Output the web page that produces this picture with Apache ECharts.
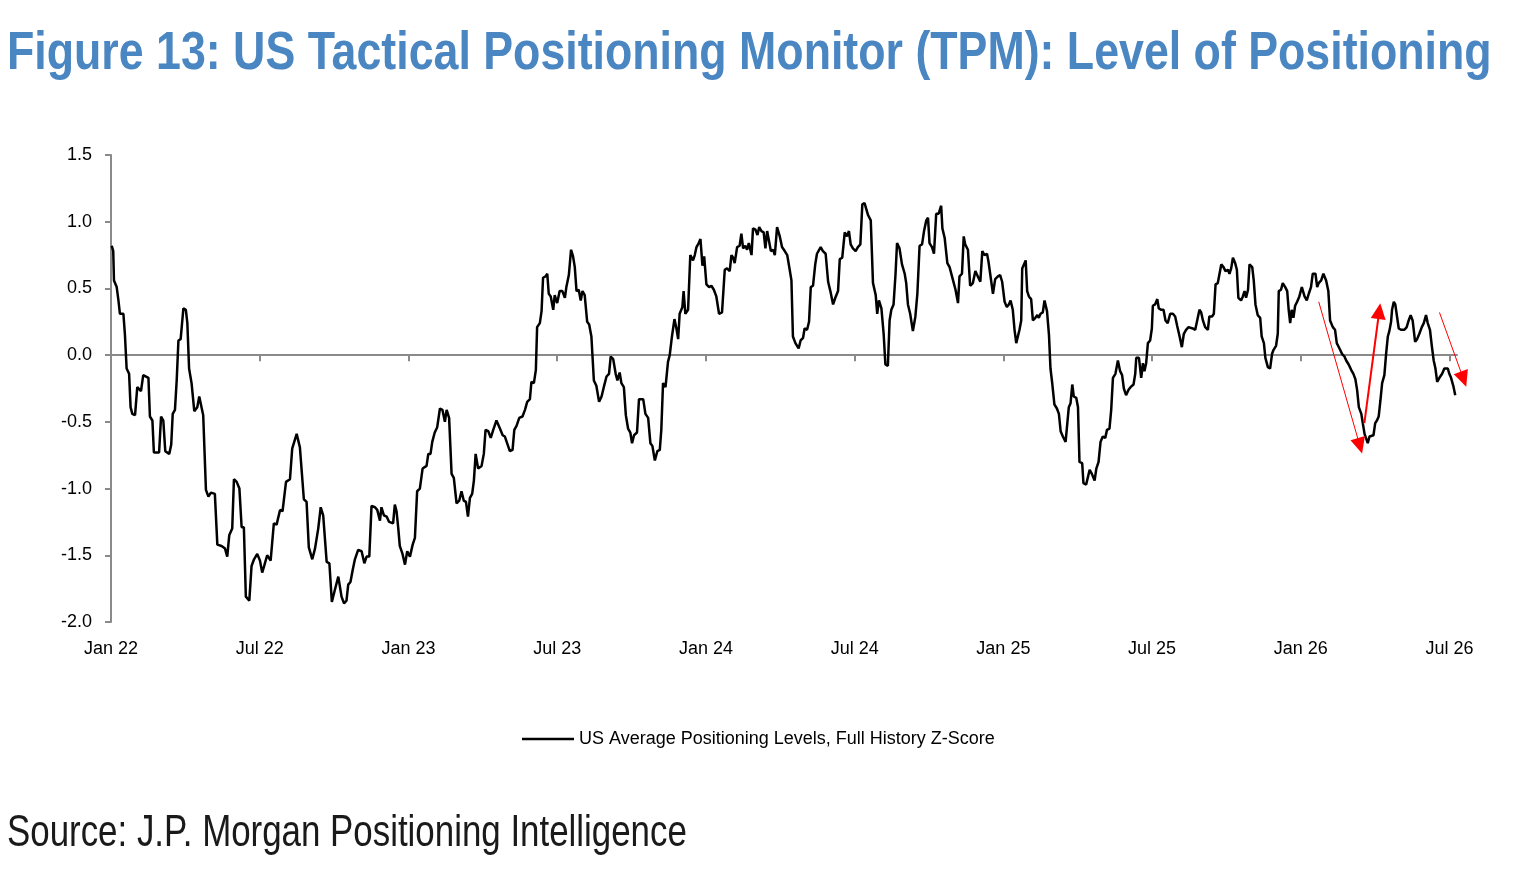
<!DOCTYPE html>
<html>
<head>
<meta charset="utf-8">
<script src="https://cdn.jsdelivr.net/npm/echarts@6/dist/echarts.min.js"></script>
<style>
  html, body { margin: 0; padding: 0; background: #fff; }
  #main { width: 1524px; height: 881px; }
</style>
</head>
<body>
<div id="main"></div>
<script>
// x positions in months since Jan 2022
const months = [
  0.03,0.09,0.12,0.23,0.30,0.36,0.50,0.56,0.63,0.73,0.79,0.86,0.97,1.06,1.14,1.21,1.30,1.51,1.57,1.67,
  1.73,1.84,1.94,2.02,2.11,2.19,2.35,2.43,2.49,2.58,2.65,2.72,2.81,2.92,3.02,3.08,3.15,3.25,3.36,3.48,
  3.56,3.72,3.83,3.93,4.03,4.19,4.29,4.46,4.60,4.69,4.77,4.89,4.96,5.07,5.18,5.27,5.36,5.44,5.58,5.67,
  5.77,5.90,6.01,6.10,6.18,6.30,6.44,6.57,6.68,6.82,6.92,7.06,7.22,7.31,7.39,7.49,7.62,7.78,7.89,7.98,
  8.12,8.23,8.36,8.46,8.56,8.70,8.81,8.91,
  9.03,9.17,9.30,9.40,9.50,9.57,9.66,9.75,9.84,9.97,10.11,10.22,10.31,10.42,10.51,10.65,10.74,10.85,10.91,11.01,
  11.12,11.22,11.38,11.45,11.52,11.59,11.65,11.76,11.86,11.95,12.06,12.17,12.26,12.35,12.46,12.57,12.73,12.80,12.89,12.96,
  13.06,13.16,13.27,13.37,13.47,13.54,13.64,13.74,13.83,13.94,14.05,14.14,14.23,14.32,14.40,14.48,14.57,14.64,14.71,14.81,
  14.95,15.04,15.11,15.22,15.32,15.42,15.55,15.69,15.80,15.89,16.00,16.09,16.20,16.27,16.36,16.47,16.60,16.70,16.79,16.90,
  16.96,17.06,17.14,17.19,17.30,17.37,17.43,17.53,17.60,17.66,17.74,17.84,17.90,18.00,
  18.10,18.21,18.31,18.37,18.47,18.56,18.64,18.71,18.78,18.87,18.95,19.02,19.11,19.21,19.29,19.38,19.48,19.58,19.69,19.79,
  19.88,19.99,20.09,20.16,20.26,20.36,20.43,20.52,20.59,20.69,20.77,20.86,20.95,21.02,21.10,21.22,21.30,21.47,21.56,21.67,
  21.76,21.84,21.94,22.04,22.14,22.20,22.27,22.37,22.47,22.54,22.63,22.73,22.81,22.88,22.94,23.05,23.10,23.17,23.28,23.37,
  23.48,23.55,23.62,23.71,23.78,23.86,23.93,24.02,24.13,24.22,24.32,24.42,24.53,24.65,24.76,24.85,24.96,25.03,25.10,25.16,
  25.26,25.36,25.43,25.50,25.59,25.66,25.73,25.84,25.90,26.00,26.08,26.15,26.24,26.33,26.40,26.47,26.55,26.62,26.71,26.78,
  26.87,26.98,27.07,27.18,27.28,
  27.38,27.45,27.51,27.61,27.74,27.82,27.92,27.98,28.08,28.16,28.23,28.32,28.41,28.48,28.56,28.63,28.72,28.83,28.93,29.02,
  29.13,29.22,29.33,29.40,29.50,29.60,29.69,29.77,29.84,29.93,30.04,30.13,30.23,30.31,30.40,30.47,30.54,30.65,30.74,30.85,
  30.91,30.98,31.08,31.17,31.24,31.34,31.41,31.48,31.57,31.65,31.71,31.81,31.91,32.02,32.08,32.15,32.24,32.35,32.45,32.53,
  32.62,32.72,32.80,32.89,32.96,33.02,33.12,33.20,33.29,33.39,33.49,33.54,33.63,33.74,33.83,33.97,34.07,34.17,34.23,34.33,
  34.40,34.46,34.57,34.66,34.77,34.87,34.97,35.07,35.15,35.24,35.34,35.40,35.48,35.58,35.67,35.78,35.87,35.95,36.05,36.14,
  36.22,36.29,36.38,36.45,36.52,
  36.65,36.72,36.76,36.83,36.90,36.96,37.03,37.12,37.19,37.29,37.37,37.43,37.50,37.59,37.66,37.76,37.84,37.90,37.97,38.06,
  38.16,38.24,38.31,38.40,38.51,38.58,38.64,38.71,38.78,38.84,38.94,39.01,39.07,39.18,39.23,39.34,39.41,39.48,39.57,39.68,
  39.75,39.84,39.92,40.01,40.11,40.18,40.28,40.35,40.42,40.52,40.62,40.71,40.79,40.86,40.95,41.05,41.13,41.25,41.32,41.36,
  41.47,41.56,41.63,41.69,41.76,41.83,41.92,41.99,42.03,42.12,42.21,42.27,42.37,42.46,42.54,42.63,42.73,42.84,42.93,43.01,
  43.11,43.20,43.28,43.37,43.47,43.55,43.64,43.74,43.80,43.91,43.98,44.05,44.14,44.25,44.31,44.42,44.49,44.56,44.65,44.72,
  44.79,44.88,44.96,45.06,45.12,45.19,45.26,45.35,45.42,45.48,45.59,45.66,45.73,45.79,45.87,
  45.93,46.04,46.10,46.17,46.26,46.36,46.42,46.51,46.57,46.67,46.76,46.84,46.90,47.00,47.07,47.11,47.20,47.27,47.37,47.45,
  47.51,47.57,47.63,47.70,47.77,47.85,47.94,48.04,48.15,48.24,48.32,48.41,48.48,48.59,48.66,48.72,48.82,48.91,49.02,49.11,
  49.18,49.29,49.38,49.45,49.56,49.66,49.76,49.83,49.93,50.03,50.12,50.20,50.27,50.34,50.44,50.50,50.57,50.63,50.70,50.77,
  50.85,50.93,51.00,51.07,51.14,51.21,51.28,51.37,51.44,51.51,51.57,51.64,51.68,51.75,51.81,51.88,51.95,52.04,52.18,52.27,
  52.35,52.43,52.51,52.61,52.69,52.78,52.88,52.96,53.05,53.12,53.21,53.29,53.36,53.43,53.50,53.59,53.70,53.79,53.93,53.99,
  54.06,54.15,54.23
]

// US Average Positioning Levels, Full History Z-Score
const zScore = [
  0.82,0.78,0.56,0.51,0.41,0.31,0.31,0.16,-0.10,-0.14,-0.39,-0.44,-0.45,-0.24,-0.25,-0.27,-0.15,-0.17,-0.46,-0.49,
  -0.73,-0.73,-0.73,-0.46,-0.49,-0.72,-0.74,-0.67,-0.44,-0.41,-0.19,0.11,0.12,0.35,0.34,0.24,-0.10,-0.21,-0.42,-0.39,
  -0.31,-0.45,-1.01,-1.06,-1.03,-1.04,-1.42,-1.43,-1.45,-1.51,-1.35,-1.30,-0.93,-0.95,-1.00,-1.29,-1.29,-1.81,-1.84,-1.58,
  -1.53,-1.49,-1.54,-1.63,-1.58,-1.50,-1.54,-1.26,-1.27,-1.16,-1.17,-0.95,-0.93,-0.70,-0.71,-0.59,-0.69,-1.08,-1.10,-1.44,
  -1.53,-1.45,-1.30,-1.14,-1.20,-1.55,-1.56,-1.85,
  -1.76,-1.66,-1.81,-1.86,-1.84,-1.72,-1.70,-1.61,-1.53,-1.46,-1.47,-1.56,-1.51,-1.51,-1.13,-1.14,-1.16,-1.24,-1.14,-1.20,
  -1.21,-1.25,-1.26,-1.12,-1.17,-1.30,-1.43,-1.49,-1.57,-1.47,-1.51,-1.42,-1.37,-1.02,-1.00,-0.85,-0.83,-0.74,-0.74,-0.65,
  -0.58,-0.54,-0.40,-0.41,-0.50,-0.41,-0.47,-0.89,-0.92,-1.11,-1.09,-1.02,-1.09,-1.10,-1.21,-1.07,-1.04,-0.94,-0.74,-0.85,
  -0.83,-0.74,-0.56,-0.57,-0.62,-0.56,-0.49,-0.55,-0.60,-0.61,-0.67,-0.72,-0.71,-0.56,-0.53,-0.47,-0.46,-0.41,-0.35,-0.33,
  -0.20,-0.21,-0.11,0.21,0.24,0.33,0.58,0.59,0.61,0.46,0.44,0.34,0.45,0.39,
  0.48,0.48,0.43,0.51,0.60,0.79,0.74,0.66,0.48,0.49,0.41,0.48,0.45,0.25,0.23,0.14,-0.19,-0.23,-0.35,-0.31,
  -0.24,-0.16,-0.14,-0.01,-0.03,-0.14,-0.19,-0.13,-0.21,-0.24,-0.45,-0.55,-0.58,-0.66,-0.60,-0.58,-0.33,-0.33,-0.44,-0.47,
  -0.66,-0.68,-0.79,-0.72,-0.71,-0.56,-0.21,-0.24,-0.05,0.00,0.14,0.27,0.20,0.12,0.31,0.36,0.48,0.31,0.34,0.75,
  0.71,0.75,0.81,0.84,0.87,0.67,0.74,0.53,0.51,0.52,0.49,0.44,0.31,0.32,0.64,0.65,0.63,0.75,0.73,0.69,
  0.81,0.82,0.91,0.80,0.82,0.79,0.84,0.75,0.95,0.94,0.90,0.96,0.93,0.92,0.80,0.93,0.94,0.78,0.79,0.75,
  0.96,0.89,0.81,0.78,0.75,
  0.64,0.56,0.14,0.09,0.05,0.11,0.13,0.20,0.19,0.25,0.51,0.52,0.68,0.76,0.76,0.81,0.78,0.76,0.55,0.48,
  0.38,0.43,0.48,0.72,0.73,0.92,0.89,0.93,0.83,0.80,0.78,0.81,0.83,1.13,1.14,1.15,1.05,1.01,0.54,0.45,
  0.31,0.41,0.35,0.16,-0.07,-0.08,0.26,0.34,0.38,0.61,0.84,0.80,0.68,0.61,0.54,0.38,0.31,0.18,0.29,0.46,
  0.82,0.83,0.93,1.01,1.03,0.84,0.81,0.76,1.06,1.06,1.12,0.95,0.88,0.69,0.66,0.56,0.49,0.39,0.59,0.61,
  0.89,0.83,0.79,0.52,0.54,0.63,0.59,0.55,0.78,0.75,0.76,0.70,0.71,0.46,0.57,0.59,0.60,0.55,0.40,0.36,
  0.38,0.41,0.34,0.19,0.09,
  0.19,0.26,0.65,0.68,0.71,0.48,0.44,0.42,0.26,0.28,0.30,0.28,0.31,0.32,0.41,0.33,0.15,-0.10,-0.21,-0.37,
  -0.40,-0.44,-0.57,-0.61,-0.65,-0.51,-0.39,-0.36,-0.22,-0.31,-0.32,-0.39,-0.80,-0.81,-0.96,-0.97,-0.98,-0.86,-0.89,-0.94,
  -0.85,-0.80,-0.65,-0.61,-0.62,-0.56,-0.55,-0.41,-0.17,-0.14,-0.04,-0.12,-0.15,-0.25,-0.30,-0.26,-0.24,-0.22,-0.14,-0.02,
  -0.02,-0.17,-0.06,-0.12,-0.06,0.09,0.11,0.20,0.37,0.38,0.42,0.35,0.34,0.34,0.26,0.24,0.31,0.31,0.29,0.22,
  0.14,0.06,0.16,0.19,0.21,0.21,0.20,0.19,0.20,0.34,0.32,0.26,0.21,0.19,0.29,0.29,0.31,0.53,0.54,0.61,
  0.68,0.66,0.63,0.64,0.61,0.65,0.73,0.69,0.64,0.43,0.41,0.44,0.48,0.43,0.49,
  0.68,0.66,0.56,0.38,0.30,0.28,0.14,0.09,-0.02,-0.09,-0.10,0.01,0.04,0.07,0.16,0.48,0.49,0.54,0.51,0.48,
  0.34,0.24,0.34,0.28,0.37,0.40,0.44,0.51,0.44,0.41,0.46,0.51,0.61,0.61,0.51,0.54,0.56,0.61,0.56,0.48,
  0.26,0.21,0.19,0.09,0.05,0.01,-0.01,-0.04,-0.07,-0.11,-0.14,-0.18,-0.26,-0.39,-0.44,-0.51,-0.59,-0.60,-0.66,-0.61,
  -0.62,-0.60,-0.51,-0.49,-0.46,-0.34,-0.21,-0.15,0.01,0.14,0.18,0.25,0.34,0.40,0.38,0.29,0.20,0.19,0.19,0.21,
  0.26,0.30,0.26,0.10,0.12,0.16,0.21,0.24,0.30,0.24,0.19,0.06,-0.04,-0.10,-0.20,-0.17,-0.14,-0.10,-0.10,-0.14,
  -0.17,-0.23,-0.30
]

const xTickLabels = ['Jan 22', 'Jul 22', 'Jan 23', 'Jul 23', 'Jan 24', 'Jul 24', 'Jan 25', 'Jul 25', 'Jan 26', 'Jul 26']
const xTickValues = [0, 6, 12, 18, 24, 30, 36, 42, 48, 54]

// red annotation arrows: [month, z] from -> to
const arrowFrom = [[48.72, 0.40], [50.56, -0.51], [53.59, 0.32]]
const arrowTo = [[50.38, -0.68], [51.16, 0.33], [54.56, -0.18]]

const seriesName = 'US Average Positioning Levels, Full History Z-Score'
const font = '"Liberation Sans", Arial, sans-serif'

const lineData = months.map((m, i) => [m, zScore[i]])
const arrowWidths = [1, 2, 1]
const arrows = arrowFrom.map((p, i) => [
  {coord: p, lineStyle: {width: arrowWidths[i]}},
  {coord: arrowTo[i]}
])

// main grid: 111..1457 px for 0..54.3 months; overlay grid keeps the same scale but runs to the right edge
const xMax = 54.3
const overlayMax = 57.0

const chart = echarts.init(document.getElementById('main'))
chart.setOption({
  backgroundColor: '#fff',
  animation: false,
  graphic: [
    {
      type: 'text',
      x: 7,
      y: 27,
      scaleX: 0.828,
      style: {
        text: 'Figure 13: US Tactical Positioning Monitor (TPM): Level of Positioning',
        font: 'bold 54px "Liberation Sans", Arial, sans-serif',
        fill: '#4a86c1'
      }
    },
    {
      type: 'text',
      x: 7,
      y: 811,
      scaleX: 0.775,
      style: {
        text: 'Source: J.P. Morgan Positioning Intelligence',
        font: '45px "Liberation Sans", Arial, sans-serif',
        fill: '#1a1a1a'
      }
    }
  ],
  grid: [
    {left: 111, right: 67, top: 155, bottom: 259},
    {left: 111, right: 0, top: 155, bottom: 259}
  ],
  legend: {
    data: [seriesName],
    left: 522,
    top: 730,
    padding: 0,
    icon: 'rect',
    itemWidth: 52,
    itemHeight: 2.5,
    textStyle: {
      fontFamily: font,
      fontSize: 18,
      color: '#000'
    }
  },
  xAxis: [
    {
      type: 'value',
      gridIndex: 0,
      min: 0,
      max: xMax,
      position: 'bottom',
      axisLine: {show: false, onZero: false},
      axisTick: {show: false},
      splitLine: {show: false},
      axisLabel: {
        customValues: xTickValues,
        margin: 18,
        fontFamily: font,
        fontSize: 18,
        color: '#000',
        formatter: v => xTickLabels[Math.round(v / 6)] || ''
      }
    },
    {
      type: 'value',
      gridIndex: 0,
      min: 0,
      max: xMax,
      position: 'top',
      axisLine: {show: true, onZero: true, lineStyle: {color: '#8a8a8a', width: 2}},
      axisTick: {show: true, inside: true, length: 6, customValues: xTickValues, lineStyle: {color: '#8a8a8a', width: 2}},
      splitLine: {show: false},
      axisLabel: {show: false}
    },
    {
      type: 'value',
      gridIndex: 1,
      min: 0,
      max: overlayMax,
      show: false
    }
  ],
  yAxis: [
    {
      type: 'value',
      gridIndex: 0,
      min: -2,
      max: 1.5,
      interval: 0.5,
      axisLine: {show: true, lineStyle: {color: '#8a8a8a', width: 2}},
      axisTick: {show: true, length: 6, lineStyle: {color: '#8a8a8a', width: 2}},
      splitLine: {show: false},
      axisLabel: {
        margin: 19,
        fontFamily: font,
        fontSize: 18,
        color: '#000',
        formatter: v => v.toFixed(1)
      }
    },
    {
      type: 'value',
      gridIndex: 1,
      min: -2,
      max: 1.5,
      show: false
    }
  ],
  series: [
    {
      name: seriesName,
      type: 'line',
      xAxisIndex: 0,
      yAxisIndex: 0,
      data: lineData,
      symbol: 'none',
      clip: false,
      lineStyle: {color: '#000', width: 2.5},
      itemStyle: {color: '#000'}
    },
    {
      name: 'arrows',
      type: 'line',
      xAxisIndex: 2,
      yAxisIndex: 1,
      data: [],
      silent: true,
      markLine: {
        silent: true,
        symbol: ['none', 'triangle'],
        symbolSize: [15, 16],
        label: {show: false},
        lineStyle: {color: '#ff0000', type: 'solid', width: 1},
        itemStyle: {color: '#ff0000'},
        data: arrows
      }
    }
  ]
})
</script>
</body>
</html>
